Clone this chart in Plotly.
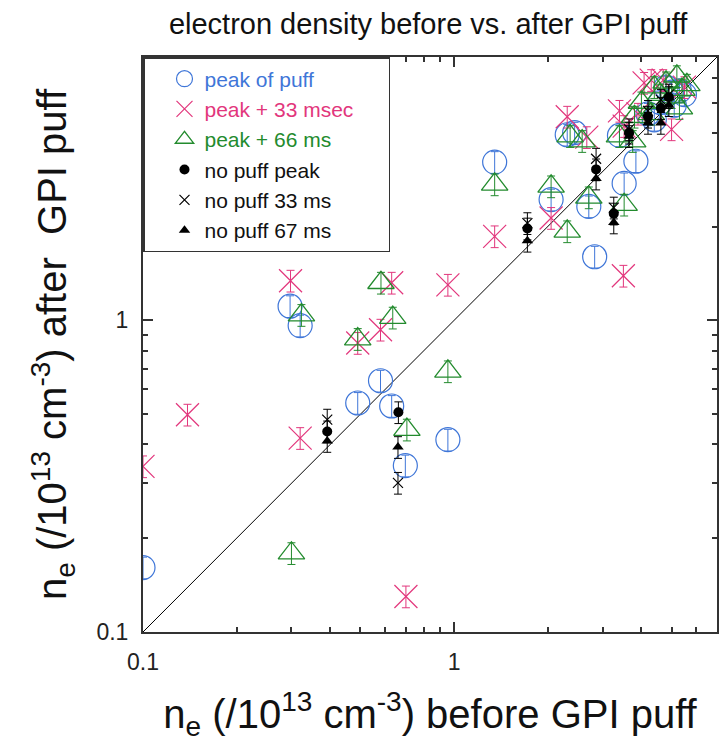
import plotly.graph_objects as go

# ---- data (n_e before, n_e after), units 1e13 cm^-3 ----
peak_x = [0.1, 0.297, 0.32, 0.49, 0.58, 0.63, 0.697, 0.955, 1.35, 2.05, 2.31, 2.44, 2.71, 2.83, 3.4, 3.52, 3.84,
          4.2, 4.6, 5.0, 5.3, 5.5, 4.4, 5.1, 4.8]
peak_y = [0.161, 1.11, 0.962, 0.543, 0.64, 0.531, 0.342, 0.414, 3.22, 2.44, 3.94, 4.0, 2.32, 1.60, 3.92, 2.75, 3.24,
          4.6, 5.0, 5.4, 5.45, 5.3, 4.4, 4.9, 5.6]

p33_x = [0.1, 0.139, 0.298, 0.32, 0.49, 0.58, 0.63, 0.7, 0.955, 1.35, 2.05, 2.31, 2.67, 3.5,
         4.08, 4.3, 3.4, 3.52, 5.0, 5.5, 4.7, 3.9]
p33_y = [0.34, 0.498, 1.34, 0.419, 0.846, 0.933, 1.32, 0.130, 1.30, 1.86, 2.13, 4.5, 3.87, 1.39,
         5.78, 5.9, 4.7, 4.2, 4.1, 5.6, 5.9, 4.6]

p66_x = [0.3, 0.323, 0.49, 0.582, 0.635, 0.705, 0.955, 1.35, 2.05, 2.31, 2.36, 2.58, 2.71, 3.52, 3.75, 3.4,
         5.2, 4.4, 4.8, 4.0, 5.0, 4.3, 5.4, 3.8, 4.6, 5.6, 5.3]
p66_y = [0.179, 1.04, 0.871, 1.32, 1.02, 0.446, 0.686, 2.73, 2.69, 1.93, 3.9, 3.76, 2.48, 2.35, 3.76, 3.9,
         6.07, 5.6, 5.8, 5.0, 5.2, 4.6, 5.5, 4.5, 5.3, 5.7, 4.8]

np_peak_x = [0.391, 0.662, 1.72, 2.86, 3.26, 4.62, 4.9, 4.2, 3.65]
np_peak_y = [0.44, 0.507, 1.97, 3.05, 2.2, 4.8, 5.2, 4.5, 4.0]

np33_x = [0.391, 0.66, 1.72, 2.86, 3.26, 4.62, 4.2, 4.9, 3.65]
np33_y = [0.48, 0.301, 2.05, 3.3, 2.3, 5.1, 4.7, 5.3, 4.1]

np67_x = [0.391, 0.66, 1.72, 2.86, 3.26, 4.62, 4.9, 4.2, 3.65]
np67_y = [0.41, 0.392, 1.80, 2.85, 2.06, 4.3, 4.9, 4.3, 3.9]

err_pct = 8  # vertical error bars, percent

diag = [0.1, 7]

BLUE = "#3f76d8"
PINK = "#e2367c"
GREEN = "#238b2e"
FONT = "Liberation Sans"

fig = go.Figure()

fig.add_trace(go.Scatter(x=diag, y=diag, mode="lines", line=dict(color="black", width=1),
                         showlegend=False, hoverinfo="skip"))

def add(xs, ys, name, symbol, color, size, lw, legcolor, pad=""):
    fig.add_trace(go.Scatter(
        x=xs, y=ys, mode="markers",
        name="<span style='color:%s'>%s</span>%s" % (legcolor, name, pad),
        marker=dict(symbol=symbol, size=size, color=color, line=dict(color=color, width=lw)),
        error_y=dict(type="percent", value=err_pct, color=color, thickness=1, width=4),
    ))

add(peak_x, peak_y, "peak of puff", "circle-open", BLUE, 24, 1.2, BLUE)
add(p33_x, p33_y, "peak + 33 msec", "x-thin-open", PINK, 23, 1.2, PINK, "&nbsp;&nbsp;&nbsp;&nbsp;&nbsp;")
add(p66_x, p66_y, "peak + 66 ms", "triangle-up-open", GREEN, 23, 1.3, GREEN)
add(np_peak_x, np_peak_y, "no puff peak", "circle", "black", 10, 0, "#111")
add(np33_x, np33_y, "no puff 33 ms", "x-thin-open", "black", 10, 1.2, "#111")
add(np67_x, np67_y, "no puff 67 ms", "triangle-up", "black", 10, 0, "#111")

minor_vals = [0.2, 0.3, 0.4, 0.5, 0.6, 0.7, 0.8, 0.9, 2, 3, 4, 5, 6]

axis_common = dict(
    type="log", range=[-1, 0.845], tickvals=[0.1, 1], ticktext=["0.1", "1"],
    ticks="inside", ticklen=10, tickwidth=1.5, tickcolor="#333",
    showline=True, linecolor="#333", linewidth=2, mirror="ticks",
    showgrid=False, zeroline=False, ticklabelstandoff=8,
    tickfont=dict(family=FONT, size=23, color="#222"),
    minor=dict(tickvals=minor_vals, ticks="inside", ticklen=5, tickwidth=1.5, tickcolor="#333", showgrid=False),
)

fig.update_layout(
    width=722, height=754,
    margin=dict(l=143, r=3, t=57, b=122),
    paper_bgcolor="white", plot_bgcolor="white",
    title=dict(text="electron density before vs. after GPI puff", x=0.593, xanchor="center",
               y=0.968, yanchor="middle", font=dict(family=FONT, size=29, color="#111")),
    xaxis=dict(**axis_common,
               title=dict(text="n<sub>e</sub> (/10<sup>13</sup> cm<sup>-3</sup>) before GPI puff",
                          font=dict(family=FONT, size=40, color="#111"), standoff=26)),
    yaxis=dict(**axis_common,
               title=dict(text="n<sub>e</sub> (/10<sup>13</sup> cm<sup>-3</sup>) after  GPI puff",
                          font=dict(family=FONT, size=40, color="#111"), standoff=17)),
    legend=dict(x=0, y=1, xanchor="left", yanchor="top", bgcolor="white",
                bordercolor="#333", borderwidth=1.5, font=dict(family=FONT, size=21, color="#111"),
                itemsizing="trace", tracegroupgap=0, indentation=20),
    showlegend=True,
)

fig.write_html("out.html")
